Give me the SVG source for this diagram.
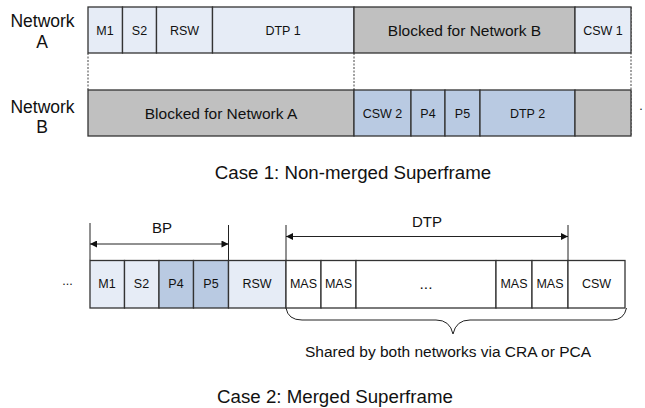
<svg xmlns="http://www.w3.org/2000/svg" width="645" height="408" viewBox="0 0 645 408">
<defs>
<style>
text{font-family:"Liberation Sans",Arial,sans-serif;fill:#111;text-anchor:middle}
.c{stroke:#333;stroke-width:1.3}
.lb{fill:#e6ecf6}
.db{fill:#b9cae2}
.gr{fill:#c0c0c0}
.wh{fill:#fff}
.t{font-size:12.5px}
.blk{font-size:15.5px}
.lab{font-size:15px}
.cap{font-size:18.7px}
.net{font-size:17.5px}
.dash{stroke:#444;stroke-width:1;stroke-dasharray:2,1.5;fill:none}
.ln{stroke:#222;stroke-width:1;fill:none}
</style>
<marker id="ah" viewBox="0 0 10 10" refX="10" refY="5" markerWidth="11" markerHeight="7" orient="auto-start-reverse" markerUnits="userSpaceOnUse">
<path d="M0,0 L10,5 L0,10 z" fill="#111"/>
</marker>
</defs>
<rect width="645" height="408" fill="#fff"/>

<g id="labels">
<text class="net" x="42.5" y="27">Network</text>
<text class="net" x="42" y="47.5">A</text>
<text class="net" x="42.5" y="112.5">Network</text>
<text class="net" x="42" y="133">B</text>
<text class="cap" x="353" y="179">Case 1: Non-merged Superframe</text>
<text class="cap" x="335" y="403">Case 2: Merged Superframe</text>
<text class="blk" x="448" y="357">Shared by both networks via  CRA or PCA</text>
<text class="t" x="67.5" y="285">...</text>
<text class="t" x="641" y="110">.</text>
</g>

<g id="connectors">
<path class="dash" d="M88,53 V90 M354,53 V90 M631,7 V136"/>
<path class="ln" d="M90,223 V260 M228.5,225 V260 M286,225 V260 M568,225 V260"/>
<line class="ln" x1="90" y1="244" x2="228.5" y2="244" marker-start="url(#ah)" marker-end="url(#ah)"/>
<line class="ln" x1="286" y1="236.5" x2="568" y2="236.5" marker-start="url(#ah)" marker-end="url(#ah)"/>
<path class="ln" d="M286,308 Q288,320 302,320 H436 Q450,320 453,334 Q456,320 470,320 H612 Q624,320 626.5,308"/>
<text class="lab" x="162" y="233">BP</text>
<text class="lab" x="427" y="227">DTP</text>
</g>

<g id="netA">
<g id="a-m1"><rect class="c lb" x="88" y="7" width="34.5" height="46"/><text class="t" x="105" y="35">M1</text></g>
<g id="a-s2"><rect class="c lb" x="122.5" y="7" width="34" height="46"/><text class="t" x="139.5" y="35">S2</text></g>
<g id="a-rsw"><rect class="c lb" x="156.5" y="7" width="56" height="46"/><text class="t" x="184.5" y="35">RSW</text></g>
<g id="a-dtp1"><rect class="c lb" x="212.5" y="7" width="141.5" height="46"/><text class="t" x="283" y="35">DTP 1</text></g>
<g id="a-blk"><rect class="c gr" x="354" y="7" width="221" height="46"/><text class="blk" x="464.5" y="36">Blocked for Network B</text></g>
<g id="a-csw1"><rect class="c lb" x="575" y="7" width="56" height="46"/><text class="t" x="603" y="35">CSW 1</text></g>
</g>

<g id="netB">
<g id="b-blk"><rect class="c gr" x="88" y="90" width="266" height="46"/><text class="blk" x="221" y="119">Blocked for Network A</text></g>
<g id="b-csw2"><rect class="c db" x="354" y="90" width="57" height="46"/><text class="t" x="382.5" y="118">CSW 2</text></g>
<g id="b-p4"><rect class="c db" x="411" y="90" width="34" height="46"/><text class="t" x="428" y="118">P4</text></g>
<g id="b-p5"><rect class="c db" x="445" y="90" width="35" height="46"/><text class="t" x="462.5" y="118">P5</text></g>
<g id="b-dtp2"><rect class="c db" x="480" y="90" width="95" height="46"/><text class="t" x="527.5" y="118">DTP 2</text></g>
<g id="b-gray"><rect class="c gr" x="575" y="90" width="56" height="46"/></g>
</g>

<g id="merged">
<g id="m-m1"><rect class="c lb" x="90" y="260.5" width="34.5" height="47.5"/><text class="t" x="107" y="288">M1</text></g>
<g id="m-s2"><rect class="c lb" x="124.5" y="260.5" width="34.5" height="47.5"/><text class="t" x="141.5" y="288">S2</text></g>
<g id="m-p4"><rect class="c db" x="159" y="260.5" width="34.5" height="47.5"/><text class="t" x="176" y="288">P4</text></g>
<g id="m-p5"><rect class="c db" x="193.5" y="260.5" width="35" height="47.5"/><text class="t" x="211" y="288">P5</text></g>
<g id="m-rsw"><rect class="c lb" x="228.5" y="260.5" width="57.5" height="47.5"/><text class="t" x="257" y="288">RSW</text></g>
<g id="m-mas1"><rect class="c wh" x="286" y="260.5" width="35" height="47.5"/><text class="t" x="303.5" y="288">MAS</text></g>
<g id="m-mas2"><rect class="c wh" x="321" y="260.5" width="35" height="47.5"/><text class="t" x="338.5" y="288">MAS</text></g>
<g id="m-dots"><rect class="c wh" x="356" y="260.5" width="140" height="47.5"/><text class="blk" x="426" y="289">...</text></g>
<g id="m-mas3"><rect class="c wh" x="496" y="260.5" width="36" height="47.5"/><text class="t" x="514" y="288">MAS</text></g>
<g id="m-mas4"><rect class="c wh" x="532" y="260.5" width="36" height="47.5"/><text class="t" x="550" y="288">MAS</text></g>
<g id="m-csw"><rect class="c wh" x="568" y="260.5" width="57" height="47.5"/><text class="t" x="596.5" y="288">CSW</text></g>
</g>
</svg>
